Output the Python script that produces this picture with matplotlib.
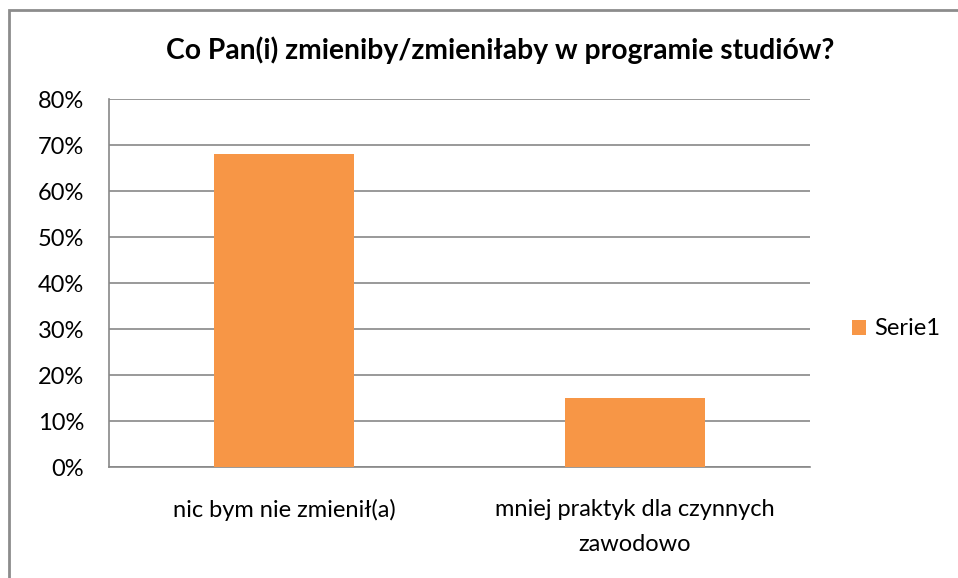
import matplotlib
matplotlib.use("Agg")
import matplotlib.pyplot as plt
from matplotlib.patches import Rectangle
import numpy as np

# data
categories = ["nic bym nie zmienił(a)", "mniej praktyk dla czynnych\nzawodowo"]
values = [0.68, 0.15]
series_name = "Serie1"
title = "Co Pan(i) zmieniby/zmieniłaby w programie studiów?"
yticks = [0, 0.1, 0.2, 0.3, 0.4, 0.5, 0.6, 0.7, 0.8]

plt.rcParams['font.family'] = ['Lato', 'DejaVu Sans']
orange = '#F79646'
grid_col = '#888888'

fig = plt.figure(figsize=(9.58, 5.78), dpi=100)
ax = fig.add_axes([109 / 958, 1 - 467 / 578, 701 / 958, 368 / 578])

x = np.arange(len(categories))
bars = ax.bar(x, values, width=0.40, color=orange, label=series_name, zorder=3)

ax.set_xlim(-0.5, len(categories) - 0.5)
ax.set_ylim(0, 0.8)
ax.set_yticks(yticks)
ax.set_yticklabels(["{:.0f}%".format(v * 100) for v in yticks], fontsize=17)
ax.set_xticks(x)
ax.set_xticklabels(categories, fontsize=17, linespacing=1.8)
ax.tick_params(axis='both', length=0, colors='black')
ax.tick_params(axis='y', pad=18)
ax.tick_params(axis='x', pad=23)
ax.yaxis.grid(True, color=grid_col, linewidth=1.2, zorder=0)

for side in ['top', 'right']:
    ax.spines[side].set_visible(False)
for side in ['left', 'bottom']:
    ax.spines[side].set_color(grid_col)
    ax.spines[side].set_linewidth(1.2)

fig.text(500 / 958, 1 - 50 / 578, title, ha='center', va='center',
         fontsize=20.3, fontweight='bold')

fig.legend(handles=[bars], labels=[series_name], loc='center left',
           bbox_to_anchor=(831 / 958, 1 - 329 / 578), frameon=False,
           fontsize=17, handlelength=0.6, handleheight=0.6, handletextpad=0.35)

# outer chart border (cut off at right/bottom like the screenshot)
fig.patches.append(Rectangle((9 / 958, -0.1), 1.2, 1 - 10 / 578 + 0.1,
                             transform=fig.transFigure, fill=False,
                             edgecolor='#8c8c8c', linewidth=2))

fig.savefig("out.png", dpi=100, facecolor='white')
